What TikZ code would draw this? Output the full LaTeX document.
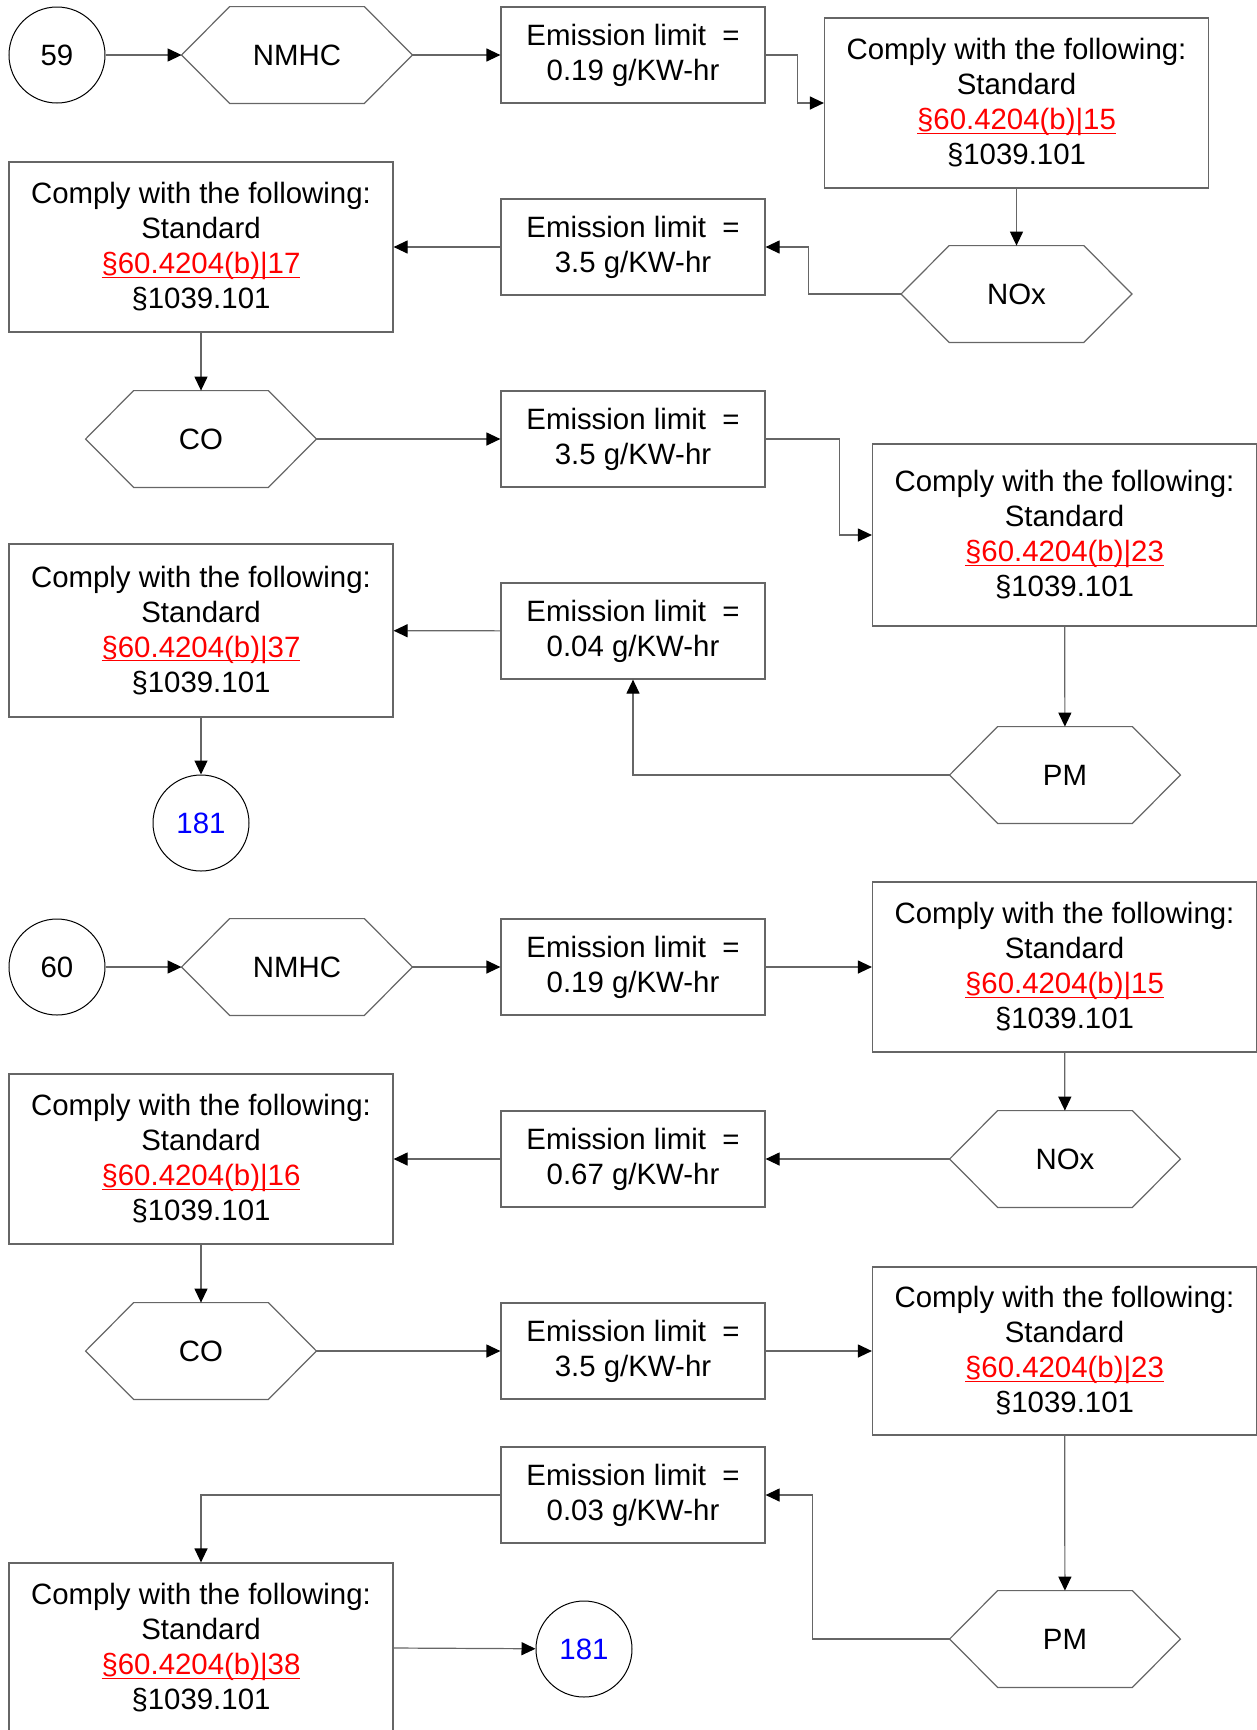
\documentclass[tikz,border=0pt]{standalone}
\usepackage{fontspec}
\setmainfont{Liberation Sans}
\usetikzlibrary{arrows.meta}

\tikzset{
  boxline/.style={draw=black!60, line width=0.6pt},
  limitbox/.style={boxline, minimum width=132pt, minimum height=48pt, inner sep=0pt, align=center},
  complybox/.style={boxline, minimum width=192pt, minimum height=85pt, inner sep=0pt, align=center},
  hexa/.style={minimum width=115pt, minimum height=48pt, inner sep=0pt},
  pagecirc/.style={circle, draw=black, line width=0.5pt, minimum size=48pt, inner sep=0pt},
  conn/.style={draw=black!60, line width=0.6pt, ->},
}
\newcommand{\secline}[1]{\setbox0\hbox{#1}\rlap{\rule[-2pt]{\wd0}{0.6pt}}\box0}
\newcommand{\limittext}[1]{Emission limit\ \ =\\#1}
\newcommand{\complytext}[1]{Comply with the following:\\Standard\\\textcolor{red}{\secline{§60.4204(b)|#1}}\\§1039.101}

\begin{document}
\begin{tikzpicture}[x=0.5pt, y=-0.5pt, font=\fontsize{14.7}{17.5}\selectfont,
  >={Triangle[length=7pt,width=6.5pt,color=black]}]
\useasboundingbox (0,0) rectangle (1257,1730);

% first chart
\node[pagecirc] (c59) at (57,55) {59};
\node[hexa] (nmhc1) at (297,55) {NMHC};
\node[limitbox] (em1) at (633,55) {\limittext{0.19 g/KW-hr}};
\node[complybox] (cm1) at (1016.5,103) {\complytext{15}};

\node[complybox] (cm2) at (201,247) {\complytext{17}};
\node[limitbox] (em2) at (633,247) {\limittext{3.5 g/KW-hr}};
\node[hexa] (nox1) at (1016.5,294) {NOx};

\node[hexa] (co1) at (201,439) {CO};
\node[limitbox] (em3) at (633,439) {\limittext{3.5 g/KW-hr}};
\node[complybox, minimum height=91pt] (cm3) at (1064.5,535) {\complytext{23}};

\node[complybox, minimum height=86.5pt] (cm4) at (201,630.5) {\complytext{37}};
\node[limitbox] (em4) at (633,631) {\limittext{0.04 g/KW-hr}};
\node[hexa] (pm1) at (1065,775) {PM};
\node[pagecirc, text=blue] (c181a) at (201,823) {181};

% second chart
\node[pagecirc] (c60) at (57,967) {60};
\node[hexa] (nmhc2) at (297,967) {NMHC};
\node[limitbox] (em5) at (633,967) {\limittext{0.19 g/KW-hr}};
\node[complybox] (cm5) at (1064.5,967) {\complytext{15}};

\node[complybox] (cm6) at (201,1159) {\complytext{16}};
\node[limitbox] (em6) at (633,1159) {\limittext{0.67 g/KW-hr}};
\node[hexa] (nox2) at (1065,1159) {NOx};

\node[hexa] (co2) at (201,1351) {CO};
\node[limitbox] (em7) at (633,1351) {\limittext{3.5 g/KW-hr}};
\node[complybox, minimum height=84pt] (cm7) at (1064.5,1351) {\complytext{23}};

\node[limitbox] (em8) at (633,1495) {\limittext{0.03 g/KW-hr}};
\node[hexa] (pm2) at (1065,1639) {PM};
\node[complybox] (cm8) at (201,1648) {\complytext{38}};
\node[pagecirc, text=blue] (c181b) at (584,1649) {181};

% hexagon outlines
\foreach \h in {nmhc1,nox1,co1,pm1,nmhc2,nox2,co2,pm2}
  \draw[boxline] ([xshift=24pt]\h.north west) -- ([xshift=-24pt]\h.north east)
    -- (\h.east) -- ([xshift=-24pt]\h.south east)
    -- ([xshift=24pt]\h.south west) -- (\h.west) -- cycle;

% connectors, first chart
\draw[conn] (c59) -- (nmhc1);
\draw[conn] (nmhc1) -- (em1);
\draw[conn] (em1.east) -- ++(16pt,0) |- (cm1.west);
\draw[conn] (cm1) -- (nox1);
\draw[conn] (nox1.west) -- ++(-46.5pt,0) |- (em2.east);
\draw[conn] (em2) -- (cm2);
\draw[conn] (cm2) -- (co1);
\draw[conn] (co1) -- (em3);
\draw[conn] (em3.east) -- ++(37pt,0) |- (cm3.west);
\draw[conn] (cm3) -- (pm1);
\draw[conn] (pm1.west) -| (em4.south);
\draw[conn] (em4) -- (cm4);
\draw[conn] (cm4) -- (c181a);

% connectors, second chart
\draw[conn] (c60) -- (nmhc2);
\draw[conn] (nmhc2) -- (em5);
\draw[conn] (em5) -- (cm5);
\draw[conn] (cm5) -- (nox2);
\draw[conn] (nox2) -- (em6);
\draw[conn] (em6) -- (cm6);
\draw[conn] (cm6) -- (co2);
\draw[conn] (co2) -- (em7);
\draw[conn] (em7) -- (cm7);
\draw[conn] (cm7) -- (pm2);
\draw[conn] (pm2.west) -- ++(-68.5pt,0) |- (em8.east);
\draw[conn] (em8.west) -| (cm8.north);
\draw[conn] (cm8.east) -- (c181b);
\end{tikzpicture}
\end{document}
